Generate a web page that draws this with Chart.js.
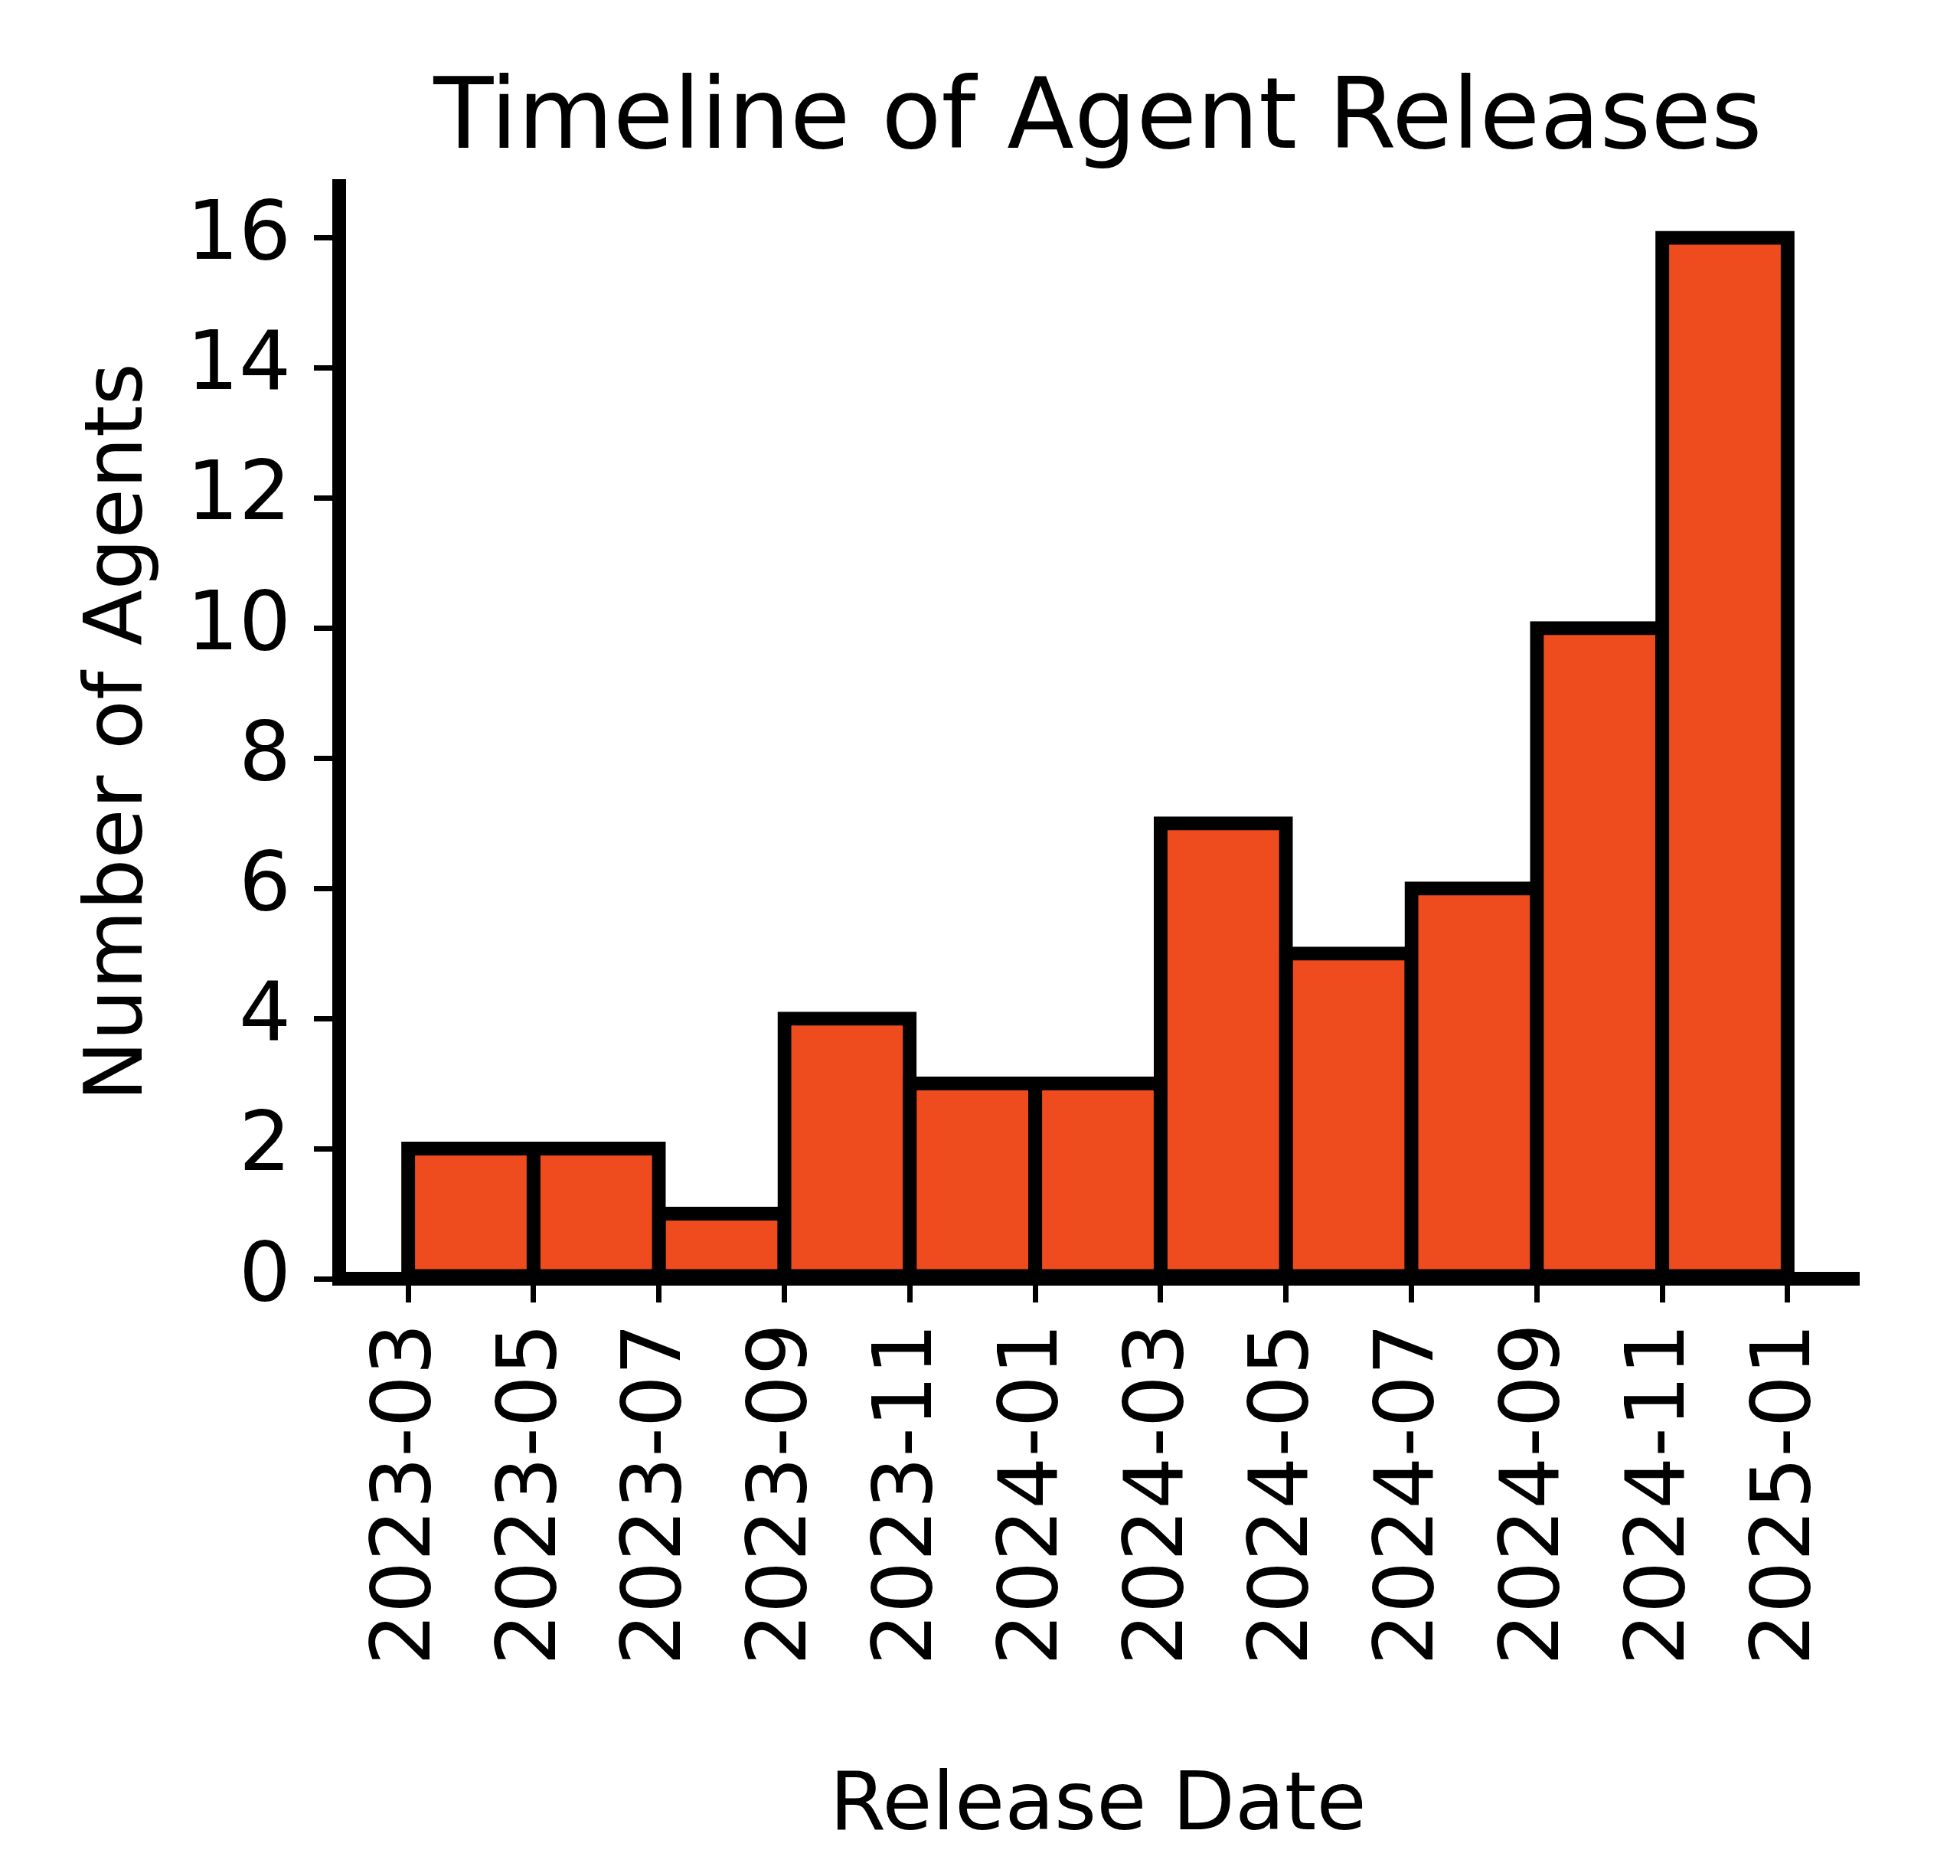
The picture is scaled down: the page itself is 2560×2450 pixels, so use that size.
<!DOCTYPE html>
<html>
<head>
<meta charset="utf-8">
<script src="https://cdn.jsdelivr.net/npm/chart.js@4.4.1/dist/chart.umd.min.js"></script>
<style>
  html, body { margin: 0; padding: 0; background: #ffffff; }
  #wrap { width: 2560px; height: 2450px; }
</style>
</head>
<body>
<div id="wrap"><canvas id="c" width="2560" height="2450" style="width:2560px;height:2450px"></canvas></div>
<script>
// ---- data ----
const tickLabels = ['2023-03','2023-05','2023-07','2023-09','2023-11','2024-01','2024-03','2024-05','2024-07','2024-09','2024-11','2025-01'];
const binStarts  = ['2023-03','2023-05','2023-07','2023-09','2023-11','2024-01','2024-03','2024-05','2024-07','2024-09','2024-11'];
const counts     = [2, 2, 1, 4, 3, 3, 7, 5, 6, 10, 16];
const yTicks     = [0, 2, 4, 6, 8, 10, 12, 14, 16];
const chartTitle = 'Timeline of Agent Releases';
const xTitle     = 'Release Date';
const yTitle     = 'Number of Agents';

// months since first label
function monthIndex(s) {
  const [y, m] = s.split('-').map(Number);
  const [y0, m0] = tickLabels[0].split('-').map(Number);
  return (y - y0) * 12 + (m - m0);
}
const tickMonths = tickLabels.map(monthIndex);
const binWidth = tickMonths[1] - tickMonths[0];
const points = binStarts.map((s, i) => ({ x: monthIndex(s) + binWidth / 2, y: counts[i] }));
const span = tickMonths[tickMonths.length - 1] - tickMonths[0];
const xMin = tickMonths[0] - 0.05 * span;
const xMax = tickMonths[tickMonths.length - 1] + 0.05 * span;

const FONT = 'DejaVu Sans';

new Chart(document.getElementById('c'), {
  type: 'bar',
  data: {
    datasets: [{
      data: points,
      backgroundColor: '#EE4B1F',
      borderColor: '#000000',
      borderWidth: 18,
      borderSkipped: false,
      inflateAmount: 9,
      barPercentage: 1,
      categoryPercentage: 1,
      clip: false
    }]
  },
  options: {
    responsive: false,
    devicePixelRatio: 1,
    animation: false,
    layout: { padding: { left: 0, right: 135, top: 0, bottom: 0 } },
    plugins: {
      legend: { display: false },
      tooltip: { enabled: false },
      title: {
        display: true,
        text: chartTitle,
        fullSize: false,
        color: '#000000',
        font: { family: FONT, size: 128, weight: 'normal', lineHeight: 1.2 },
        padding: { top: 83, bottom: 6 }
      }
    },
    scales: {
      x: {
        type: 'linear',
        min: xMin,
        max: xMax,
        offset: false,
        afterBuildTicks: (s) => { s.ticks = tickMonths.map(v => ({ value: v })); },
        afterFit: (s) => { s.height = 780; },
        grid: {
          offset: false,
          drawOnChartArea: false, drawTicks: true, tickLength: 31,
          tickWidth: 7, tickColor: '#000000', lineWidth: 7, color: '#000000'
        },
        border: { display: true, color: '#000000', width: 18 },
        ticks: {
          autoSkip: false,
          maxRotation: 90,
          minRotation: 90,
          padding: 27,
          color: '#000000',
          font: { family: FONT, size: 107 },
          callback: (v) => { const i = tickMonths.indexOf(v); return i >= 0 ? tickLabels[i] : ''; }
        },
        title: {
          display: true, text: xTitle, color: '#000000',
          font: { family: FONT, size: 106, lineHeight: 1.2 },
          padding: { top: 0, bottom: 25 }
        }
      },
      y: {
        type: 'linear',
        min: 0,
        max: 16.8,
        afterBuildTicks: (s) => { s.ticks = yTicks.map(v => ({ value: v })); },
        afterFit: (s) => { s.width = 443; },
        grid: {
          offset: false,
          drawOnChartArea: false, drawTicks: true, tickLength: 33,
          tickWidth: 7, tickColor: '#000000', lineWidth: 7, color: '#000000'
        },
        border: { display: true, color: '#000000', width: 18 },
        ticks: {
          padding: 30,
          color: '#000000',
          font: { family: FONT, size: 107 },
          callback: (v) => String(v)
        },
        title: {
          display: true, text: yTitle, color: '#000000',
          font: { family: FONT, size: 106, lineHeight: 1.2 },
          padding: { top: 94, bottom: 0 }
        }
      }
    }
  }
});
</script>
</body>
</html>
